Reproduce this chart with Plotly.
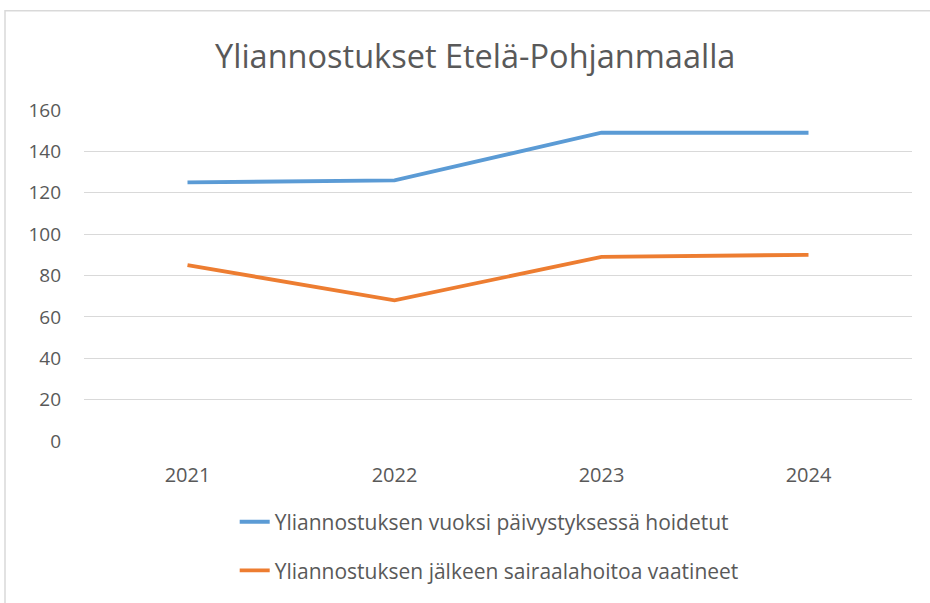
import plotly.graph_objects as go

years = ["2021", "2022", "2023", "2024"]
hoidetut = [125, 126, 149, 149]
sairaala = [85, 68, 89, 90]
name_a = "Yliannostuksen vuoksi päivystyksessä hoidetut"
name_b = "Yliannostuksen jälkeen sairaalahoitoa vaatineet"
title = "Yliannostukset Etelä-Pohjanmaalla"
yticks = [0, 20, 40, 60, 80, 100, 120, 140, 160]

FONT = "Open Sans, sans-serif"
GRAY = "#595959"

fig = go.Figure()
fig.add_trace(go.Scatter(x=years, y=hoidetut, mode="lines", name=name_a,
                         line=dict(color="#5B9BD5", width=3.8), legend="legend"))
fig.add_trace(go.Scatter(x=years, y=sairaala, mode="lines", name=name_b,
                         line=dict(color="#ED7D31", width=3.8), legend="legend2"))

fig.update_layout(
    width=930, height=603,
    margin=dict(l=84, r=18, t=110, b=160),
    paper_bgcolor="white", plot_bgcolor="white",
    font=dict(family=FONT, color=GRAY, size=20),
    title=dict(text=title, xref="container", x=0.511, xanchor="center",
               y=0.906, yanchor="middle",
               font=dict(family=FONT, size=32.5, color=GRAY)),
    xaxis=dict(type="category", range=[-0.5, 3.5], showgrid=False, zeroline=False,
               showline=False, ticks="", ticklabelstandoff=20,
               tickfont=dict(size=20, color=GRAY)),
    yaxis=dict(range=[0, 160], tickvals=yticks, showgrid=True, gridcolor="#d9d9d9",
               gridwidth=1, zeroline=False, showline=False, ticks="",
               ticklabelstandoff=22, tickfont=dict(size=19, color=GRAY)),
    legend=dict(x=0.182, y=-0.245, xanchor="left", yanchor="middle",
                font=dict(size=21, color=GRAY), bgcolor="rgba(0,0,0,0)"),
    legend2=dict(x=0.182, y=-0.392, xanchor="left", yanchor="middle",
                 font=dict(size=21, color=GRAY), bgcolor="rgba(0,0,0,0)"),
    showlegend=True,
)

fig.add_shape(type="rect", xref="paper", yref="paper",
              x0=-0.0954, x1=1.06, y0=-0.6, y1=1.3, layer="below",
              line=dict(color="#d9d9d9", width=1.5), fillcolor="rgba(0,0,0,0)")

fig.write_html("out.html", config={"displayModeBar": False},
               post_script="document.body.style.margin='0';")
